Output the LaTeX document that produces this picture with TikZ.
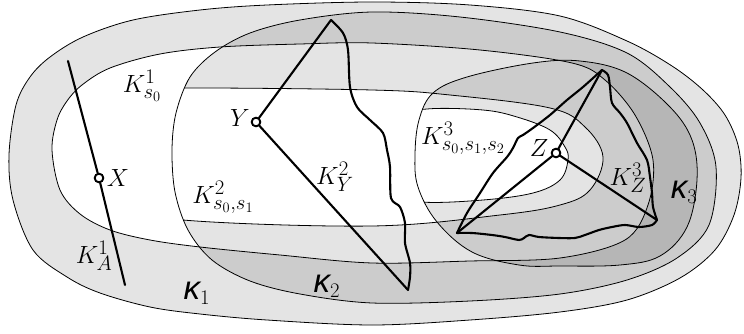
\documentclass[tikz,border=0pt]{standalone}
\usepackage{fontspec}
\newfontfamily\kfont{Liberation Sans}
\begin{document}
\begin{tikzpicture}[x=1pt,y=-1pt,
  thin line/.style={line width=0.8pt},
  thick line/.style={line width=2.1pt, line join=round, line cap=round},
  band/.style={fill=black, fill opacity=0.105},
  pt/.style={circle, draw, fill=white, line width=1.8pt, inner sep=0pt, minimum size=8.5pt},
  lbl/.style={inner sep=0pt, font=\fontsize{28}{32}\selectfont},
  kap/.style={inner sep=0pt, font=\fontsize{28}{32}\selectfont}]
\useasboundingbox (0,0) rectangle (744,334);
\def\pKone{plot[smooth cycle, tension=0.55] coordinates {(9,155) (13,200) (33,250) (67,277) (100,293) (150,307) (200,314) (267,320) (372,325) (470,320) (560,312) (627,300) (680,278) (715,250) (734,215) (741,178) (738,145) (725,115) (703,90) (672,66) (627,41) (560,16) (470,5) (372,2) (267,5) (200,10) (133,20) (83,37) (50,57) (30,77) (16,105)}}
\def\pKones{plot[smooth cycle, tension=0.55] coordinates {(52,150) (57,120) (67,101) (82,85) (110,68) (160,54) (220,47) (300,44) (372,43) (480,50) (572,63) (605,80) (635,115) (653,160) (648,205) (625,240) (560,258) (470,261) (372,263) (280,255) (200,247) (150,240) (110,230) (80,214) (60,190)}}
\def\pKtwo{plot[smooth cycle, tension=0.55] coordinates {(172,150) (176,113) (190,77) (215,52) (250,33) (300,20) (372,12) (460,17) (560,32) (627,53) (670,87) (700,123) (716,167) (709,225) (677,258) (627,280) (560,294) (470,301) (372,303) (300,294) (250,281) (212,260) (188,230) (175,192)}}
\def\pOtwo{plot[smooth cycle, tension=0.6] coordinates {(120,155) (130,110) (165,91) (190,88) (372,90) (450,95) (550,108) (585,127) (603,157) (590,190) (560,205) (500,215) (372,226) (183,220) (135,205)}}
\def\pKthree{plot[smooth cycle, tension=0.6] coordinates {(415,155) (419,120) (433,93) (467,77) (533,63) (580,61) (627,73) (670,107) (692,140) (697,180) (687,227) (660,256) (620,265) (560,266) (519,265) (472,252) (437,222) (418,187)}}
\def\pOthree{plot[smooth cycle, tension=0.6] coordinates {(390,155) (396,118) (427,109) (483,110) (517,117) (550,130) (565,147) (568,160) (560,180) (533,193) (483,200) (422,202) (396,192)}}
% bands
\fill[band, even odd rule] \pKone \pKones;
\begin{scope}
  \clip \pKtwo;
  \fill[band, even odd rule] (-10,-10) rectangle (760,350) \pOtwo;
\end{scope}
\begin{scope}
  \clip \pKthree;
  \fill[band, even odd rule] (-10,-10) rectangle (760,350) \pOthree;
\end{scope}
% outlines
\draw[thin line] \pKone;
\draw[thin line] \pKones;
\draw[thin line] \pKtwo;
\draw[thin line] \pKthree;
\begin{scope}\clip \pKtwo; \draw[thin line] \pOtwo; \end{scope}
\begin{scope}\clip \pKthree; \draw[thin line] \pOthree; \end{scope}
% points
\coordinate (xa) at (68,61);
\coordinate (xb) at (125,285);
\coordinate (ytop) at (331,20);
\coordinate (ybot) at (408,290);
\coordinate (ztop) at (602,70);
\coordinate (zl) at (457,233);
\coordinate (zr) at (657,220);
\node[pt] (X) at (99,178) {};
\node[pt] (Y) at (256,122) {};
\node[pt] (Z) at (556,153) {};
% X line
\draw[thick line] (xa) -- (X) -- (xb);
% Y figure
\draw[thick line] (ytop) -- (Y) -- (ybot);
\draw[thick line] plot[smooth, tension=0.5] coordinates {(331,20) (343,33) (348,50) (350,87) (357,107) (370,120) (383,133) (387,150) (390,167) (391,198) (400,207) (405,223) (405,243) (410,263) (410,277) (408,290)};
% Z figure
\draw[thick line] (Z) -- (ztop);
\draw[thick line] (Z) -- (zl);
\draw[thick line] (Z) -- (zr);
\draw[thick line] plot[smooth, tension=0.5] coordinates {(457,233) (467,213) (480,193) (493,173) (507,157) (513,148) (518,138) (523,135) (533,128) (550,115) (567,100) (583,87) (602,70)};
\draw[thick line] plot[smooth, tension=0.5] coordinates {(602,70) (608,75) (610,87) (612,103) (620,113) (627,123) (637,143) (647,160) (650,177) (652,193) (653,207) (657,220)};
\draw[thick line] plot[smooth, tension=0.5] coordinates {(657,220) (652,225) (639,227) (625,225) (612,227) (599,230) (585,235) (575,238) (559,238) (539,237) (529,235) (524,238) (519,240) (505,237) (492,235) (472,233) (457,233)};
% redraw points on top
\node[pt] at (X) {};
\node[pt] at (Y) {};
\node[pt] at (Z) {};
% labels
\node[lbl] (lKs0) at (142,86) {$K^1_{s_0}$};
\node[lbl] (lX) at (118,178) {$X$};
\node[lbl] (lKA) at (94,256) {$K^1_A$};
\node[kap] (lk1) at (197,293) {{\kfont\itshape\fontsize{33}{33}\selectfont κ}$_1$};
\node[lbl] (lK2s) at (223,197) {$K^2_{s_0,s_1}$};
\node[lbl] (lY) at (240,118) {$Y$};
\node[lbl] (lKY) at (335,177) {$K^2_Y$};
\node[kap] (lk2) at (327,286) {{\kfont\itshape\fontsize{33}{33}\selectfont κ}$_2$};
\node[lbl] (lK3s) at (463,138) {$K^3_{s_0,s_1,s_2}$};
\node[lbl] (lZ) at (539,148) {$Z$};
\node[lbl] (lKZ) at (628,178) {$K^3_Z$};
\node[kap] (lk3) at (684,192) {{\kfont\itshape\fontsize{33}{33}\selectfont κ}$_3$};
\end{tikzpicture}
\end{document}
